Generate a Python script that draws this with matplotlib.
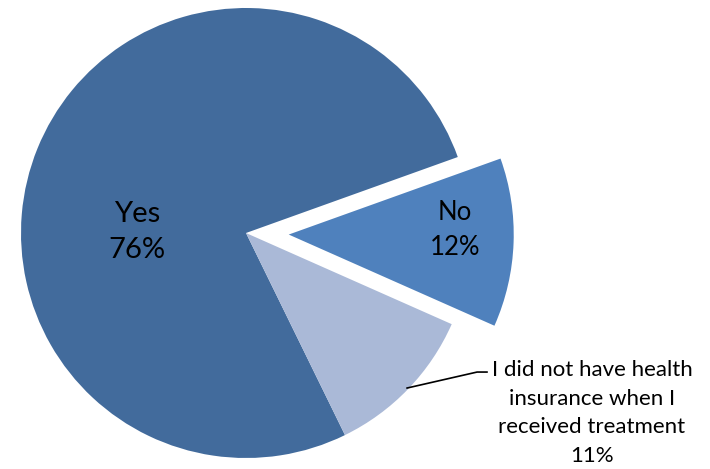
import matplotlib.pyplot as plt

labels = ["Yes", "No", "I did not have health\ninsurance when I\nreceived treatment"]
values = [76, 12, 11]
colors = ["#426B9C", "#4F81BD", "#AAB9D7"]
explode = [0, 0.19, 0]

fig = plt.figure(figsize=(7.1, 4.69), dpi=100)
ax = fig.add_axes([0, 0, 1, 1])

ax.pie(
    values,
    colors=colors,
    explode=explode,
    startangle=296.1,
    counterclock=False,
    radius=1.0,
    center=(0, 0),
    wedgeprops={"linewidth": 0},
    frame=True,
)

font = "Lato"
ax.text(-0.484, 0.004, f"{labels[0]}\n{values[0]}%", ha="center", va="center",
        fontsize=21, family=font, linespacing=1.45)
ax.text(0.929, 0.013, f"{labels[1]}\n{values[1]}%", ha="center", va="center",
        fontsize=18.5, family=font, linespacing=1.5)
ax.text(1.538, -0.80, f"{labels[2]}\n{values[2]}%", ha="center", va="center",
        fontsize=16, family=font, linespacing=1.55)

# leader line for the outside label
ax.plot([0.716, 1.027, 1.071], [-0.689, -0.618, -0.618], color="black", lw=1.2)

ax.set_xlim(-246 / 225, (710 - 246) / 225)
ax.set_ylim(-236 / 225, 233 / 225)
ax.set_aspect("equal")
ax.axis("off")

plt.savefig("out.png", dpi=100)
